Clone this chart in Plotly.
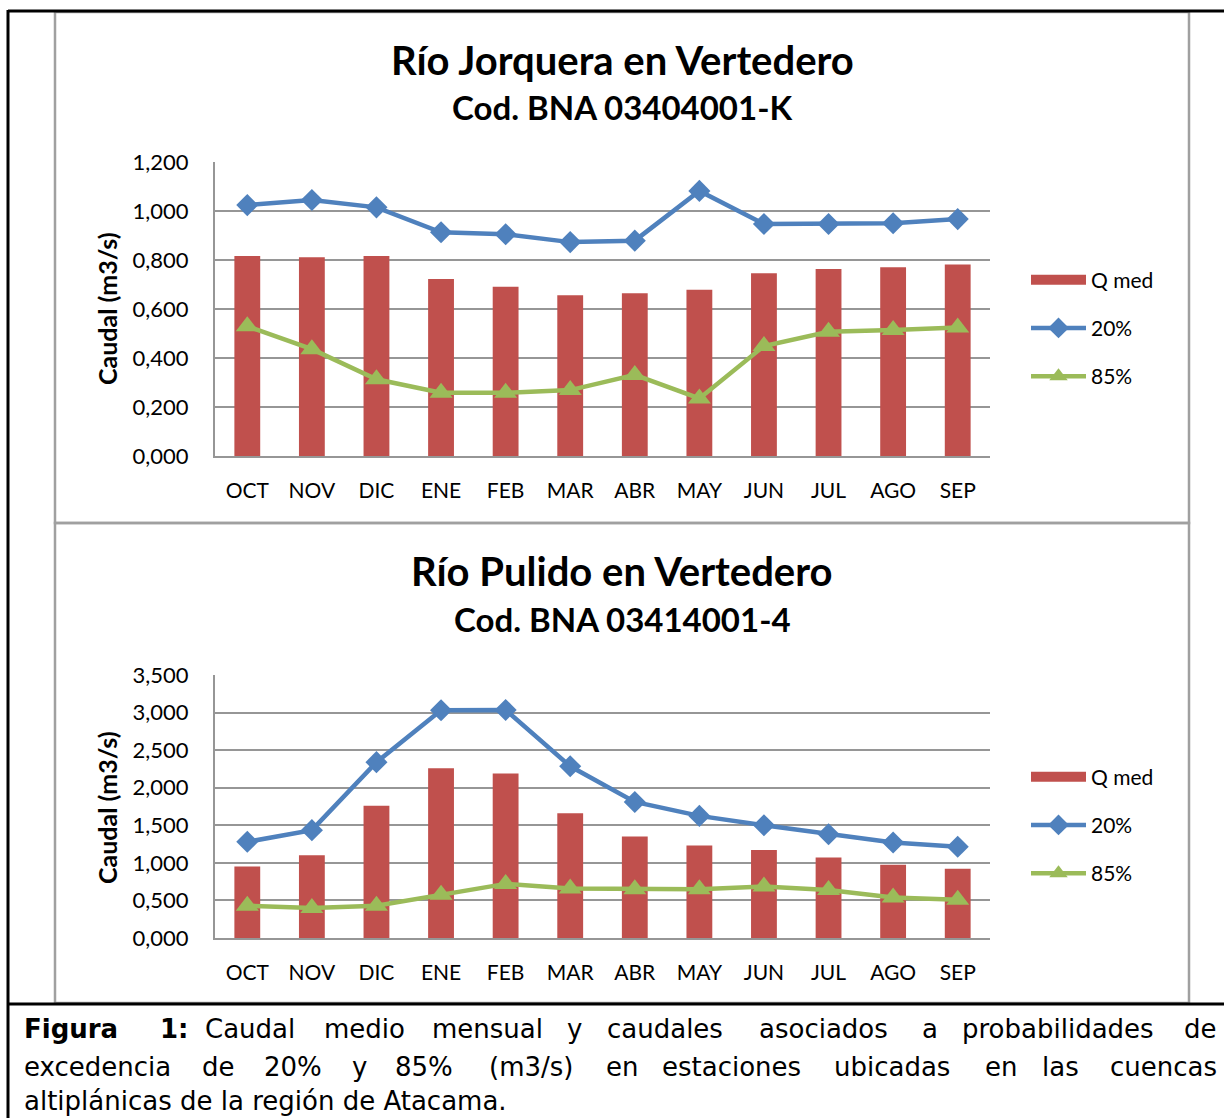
import plotly.graph_objects as go

W, H = 1224, 1118

months = ["OCT", "NOV", "DIC", "ENE", "FEB", "MAR", "ABR", "MAY", "JUN", "JUL", "AGO", "SEP"]

# Río Jorquera en Vertedero
jor_qmed = [0.816, 0.811, 0.816, 0.722, 0.691, 0.656, 0.664, 0.679, 0.746, 0.763, 0.770, 0.782]
jor_p20 = [1.024, 1.045, 1.015, 0.913, 0.905, 0.873, 0.879, 1.082, 0.947, 0.947, 0.950, 0.967]
jor_p85 = [0.530, 0.436, 0.313, 0.258, 0.258, 0.269, 0.331, 0.235, 0.449, 0.507, 0.514, 0.524]
jor_tickvals = [0, 0.2, 0.4, 0.6, 0.8, 1.0, 1.2]
jor_ticktext = ["0,000", "0,200", "0,400", "0,600", "0,800", "1,000", "1,200"]

# Río Pulido en Vertedero
pul_qmed = [0.95, 1.10, 1.76, 2.26, 2.19, 1.66, 1.35, 1.23, 1.17, 1.07, 0.975, 0.92]
pul_p20 = [1.28, 1.435, 2.34, 3.03, 3.035, 2.285, 1.81, 1.625, 1.50, 1.38, 1.27, 1.215]
pul_p85 = [0.43, 0.40, 0.43, 0.575, 0.72, 0.66, 0.65, 0.65, 0.685, 0.64, 0.54, 0.51]
pul_tickvals = [0, 0.5, 1.0, 1.5, 2.0, 2.5, 3.0, 3.5]
pul_ticktext = ["0,000", "0,500", "1,000", "1,500", "2,000", "2,500", "3,000", "3,500"]

RED = "#C0504D"
BLUE = "#4F81BD"
GREEN = "#9BBB59"
GRID = "#969696"
FONT = "Lato"


def px(x):
    return x / W


def py(y):
    return 1 - y / H


fig = go.Figure()

for (qm, p20, p85, xa, ya, leg) in [
    (jor_qmed, jor_p20, jor_p85, "x", "y", "legend"),
    (pul_qmed, pul_p20, pul_p85, "x2", "y2", "legend2"),
]:
    fig.add_trace(go.Bar(x=months, y=qm, name="Q med", marker=dict(color=RED, line=dict(width=0)),
                         width=0.4, xaxis=xa, yaxis=ya, showlegend=False))
    # legend entry for bars drawn as a wide block
    fig.add_trace(go.Scatter(x=[None], y=[None], name="Q med", mode="lines",
                             line=dict(color=RED, width=14),
                             xaxis=xa, yaxis=ya, legend=leg, legendgroup=leg + "a"))
    fig.add_trace(go.Scatter(x=months, y=p20, name="20%", mode="lines+markers",
                             line=dict(color=BLUE, width=4.5),
                             marker=dict(symbol="diamond", size=17, color=BLUE),
                             xaxis=xa, yaxis=ya, legend=leg, legendgroup=leg + "b"))
    fig.add_trace(go.Scatter(x=months, y=p85, name="85%", mode="lines+markers",
                             line=dict(color=GREEN, width=4.5),
                             marker=dict(symbol="triangle-up", size=20, color=GREEN),
                             xaxis=xa, yaxis=ya, legend=leg, legendgroup=leg + "c"))

xdom = [px(215), px(990)]
axis_common_x = dict(type="category", range=[-0.5, 11.5], showgrid=False, showline=True,
                     linecolor=GRID, linewidth=2, ticks="", tickfont=dict(family=FONT, size=21, color="black"),
                     ticklabelstandoff=15, zeroline=False, fixedrange=True, automargin=False)
axis_common_y = dict(showgrid=True, gridcolor=GRID, gridwidth=1.5, showline=True, linecolor=GRID,
                     linewidth=2, ticks="", tickfont=dict(family=FONT, size=22, color="black"),
                     ticklabelstandoff=20, zeroline=False, fixedrange=True, automargin=False)

legend_common = dict(xanchor="left", yanchor="middle", font=dict(family=FONT, size=21, color="black"),
                     tracegroupgap=18, itemwidth=55, bgcolor="rgba(0,0,0,0)")

fig.update_layout(
    width=W, height=H, autosize=False,
    margin=dict(l=0, r=0, t=0, b=0, pad=0, autoexpand=False),
    paper_bgcolor="white", plot_bgcolor="white",
    showlegend=True,
    xaxis=dict(domain=xdom, anchor="y", **axis_common_x),
    yaxis=dict(domain=[py(456), py(162)], anchor="x", range=[0, 1.2],
               tickvals=jor_tickvals, ticktext=jor_ticktext, **axis_common_y),
    xaxis2=dict(domain=xdom, anchor="y2", **axis_common_x),
    yaxis2=dict(domain=[py(938), py(675)], anchor="x2", range=[0, 3.5],
                tickvals=pul_tickvals, ticktext=pul_ticktext, **axis_common_y),
    legend=dict(x=px(1026), y=py(328), **legend_common),
    legend2=dict(x=px(1026), y=py(825), **legend_common),
)

shapes = []
# black outer frame
for (x0, y0, x1, y1) in [(8, 10, 8, 1118), (8, 11, 1224, 11), (8, 1004, 1224, 1004)]:
    shapes.append(dict(type="line", xref="paper", yref="paper", x0=px(x0), y0=py(y0), x1=px(x1), y1=py(y1),
                       line=dict(color="black", width=3)))
# gray chart frames
for (y0, y1) in [(12, 523), (523, 1003)]:
    shapes.append(dict(type="rect", xref="paper", yref="paper", x0=px(55), y0=py(y0), x1=px(1189), y1=py(y1),
                       line=dict(color="#A0A0A0", width=2.5), fillcolor="rgba(0,0,0,0)", layer="below"))
fig.update_layout(shapes=shapes)

ann = []
titles = [
    ("Río Jorquera en Vertedero", "Cod. BNA 03404001-K", 60, 107, 309),
    ("Río Pulido en Vertedero", "Cod. BNA 03414001-4", 571, 619, 808),
]
for t1, t2, y1, y2, ym in titles:
    ann.append(dict(text=f"<b>{t1}</b>", x=px(622), y=py(y1), xref="paper", yref="paper",
                    xanchor="center", yanchor="middle", showarrow=False,
                    font=dict(family=FONT, size=40, color="black")))
    ann.append(dict(text=f"<b>{t2}</b>", x=px(622), y=py(y2), xref="paper", yref="paper",
                    xanchor="center", yanchor="middle", showarrow=False,
                    font=dict(family=FONT, size=33, color="black")))
    ann.append(dict(text="<b>Caudal (m3/s)</b>", x=px(107), y=py(ym), xref="paper", yref="paper",
                    xanchor="center", yanchor="middle", showarrow=False, textangle=-90,
                    font=dict(family=FONT, size=25, color="black")))

# caption (justified by placing words)
CAP = "DejaVu Sans"
line1 = [("<b>Figura</b>", 22), ("<b>1:</b>", 158), ("Caudal", 203), ("medio", 322), ("mensual", 430),
         ("y", 565), ("caudales", 605), ("asociados", 757), ("a", 920), ("probabilidades", 960)]
line2 = [("excedencia", 22), ("de", 200), ("20%", 262), ("y", 350), ("85%", 393), ("(m3/s)", 487),
         ("en", 604), ("estaciones", 660), ("ubicadas", 832), ("en", 983), ("las", 1040)]
for words, yy, last in [(line1, 1029, "de"), (line2, 1067, "cuencas")]:
    for w, xx in words:
        ann.append(dict(text=w, x=px(xx), y=py(yy), xref="paper", yref="paper", xanchor="left",
                        yanchor="middle", showarrow=False, font=dict(family=CAP, size=26, color="black")))
    ann.append(dict(text=last, x=px(1219), y=py(yy), xref="paper", yref="paper", xanchor="right",
                    yanchor="middle", showarrow=False, font=dict(family=CAP, size=26, color="black")))
ann.append(dict(text="altiplánicas de la región de Atacama.", x=px(22), y=py(1101), xref="paper", yref="paper",
                xanchor="left", yanchor="middle", showarrow=False, font=dict(family=CAP, size=26, color="black")))

fig.update_layout(annotations=ann)

fig.write_html("out.html", config={"displayModeBar": False},
               post_script="document.body.style.margin='0';document.body.style.overflow='hidden';")
